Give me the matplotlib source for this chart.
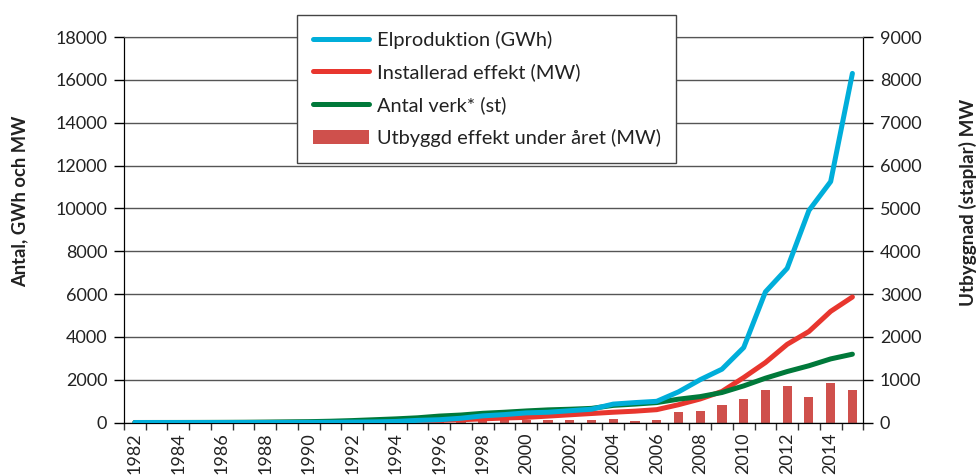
import matplotlib
matplotlib.use("Agg")
import matplotlib.pyplot as plt
import numpy as np

plt.rcParams["font.family"] = ["Lato", "DejaVu Sans"]

# data
years = list(range(1982, 2016))
elproduktion = [0, 0, 0, 0, 0, 0, 1, 3, 6, 10, 20, 30, 50, 100, 130, 200, 310,
                370, 450, 480, 550, 620, 860, 930, 990, 1430, 2000, 2490, 3500,
                6100, 7200, 9900, 11250, 16300]
installerad = [0, 0, 0, 0, 0, 1, 2, 4, 6, 10, 20, 30, 40, 60, 100, 130, 170,
               210, 240, 300, 360, 420, 480, 530, 600, 830, 1100, 1450, 2100,
               2800, 3650, 4250, 5190, 5860]
antal_verk = [1, 2, 3, 5, 8, 12, 20, 30, 40, 60, 90, 130, 170, 220, 300, 350,
              430, 480, 540, 590, 620, 660, 800, 860, 930, 1090, 1210, 1400,
              1710, 2070, 2380, 2650, 2970, 3190]
utbyggd = [0, 0, 0, 0, 0, 1, 1, 2, 3, 5, 10, 15, 20, 30, 40, 40, 50,
           55, 58, 50, 58, 58, 82, 46, 70, 246, 269, 403, 550,
           761, 847, 605, 917, 754]

left_ticks = list(range(0, 18001, 2000))
right_ticks = list(range(0, 9001, 1000))

c_blue = "#00AEDA"
c_red = "#E8362E"
c_green = "#00793A"
c_bar = "#CF504C"

x = np.arange(len(years))

fig = plt.figure(figsize=(9.78, 4.75), dpi=100)
ax = fig.add_axes([0.1268, 0.1105, 0.7559, 0.8116])
ax2 = ax.twinx()

# bars behind the lines
ax.set_zorder(ax2.get_zorder() + 1)
ax.patch.set_visible(False)

bars = ax2.bar(x, utbyggd, width=0.42, color=c_bar, zorder=2,
               label="Utbyggd effekt under året (MW)")

l1, = ax.plot(x, elproduktion, color=c_blue, lw=3.6, solid_capstyle="round",
              label="Elproduktion (GWh)", zorder=4)
l2, = ax.plot(x, installerad, color=c_red, lw=3.6, solid_capstyle="round",
              label="Installerad effekt (MW)", zorder=3)
l3, = ax.plot(x, antal_verk, color=c_green, lw=3.6, solid_capstyle="round",
              label="Antal verk* (st)", zorder=3)

ax.set_xlim(-0.5, len(years) - 0.5)
ax.set_ylim(0, 18000)
ax2.set_ylim(0, 9000)
ax.set_yticks(left_ticks)
ax2.set_yticks(right_ticks)

ax.grid(axis="y", color="#555555", lw=1.0, zorder=0)
ax.set_axisbelow(True)

# category ticks between years, labels every second year
ax.set_xticks(np.arange(-0.5, len(years), 1.0))
ax.set_xticklabels([])
ax.set_xticks(x[::2], minor=True)
ax.set_xticklabels([str(y) for y in years[::2]], minor=True, rotation=90,
                   fontsize=13, color="#222222")
ax.tick_params(axis="x", which="minor", length=0, pad=7)
ax.tick_params(axis="x", which="major", length=5, width=1, color="#333333")

ax.tick_params(axis="y", length=7, width=1, pad=5, labelsize=13,
               labelcolor="#222222")
ax2.tick_params(axis="y", length=7, width=1, pad=5, labelsize=13,
                labelcolor="#222222")

for a in (ax, ax2):
    a.spines["top"].set_color("#555555")
    a.spines["left"].set_color("black")
    a.spines["right"].set_color("black")
    a.spines["bottom"].set_color("black")

# axis titles placed by their centres
fig.text(20 / 978, 1 - 201 / 475, "Antal, GWh och MW", rotation=90,
         ha="center", va="center", fontsize=13.2, fontweight="bold",
         color="#222222")
fig.text(968 / 978, 1 - 202 / 475, "Utbyggnad (staplar) MW", rotation=90,
         ha="center", va="center", fontsize=13.6, fontweight="bold",
         color="#222222")

leg = ax.legend([l1, l2, l3, bars],
                [l1.get_label(), l2.get_label(), l3.get_label(), bars.get_label()],
                loc="upper left", bbox_to_anchor=(297 / 978, 1 - 15 / 475),
                bbox_transform=fig.transFigure, borderaxespad=0,
                fontsize=14.4, handlelength=2.8, handletextpad=0.4,
                labelspacing=0.74, borderpad=0.78, fancybox=False,
                edgecolor="#444444", framealpha=1)
leg.get_frame().set_linewidth(1.0)
for t in leg.get_texts():
    t.set_color("#222222")

fig.savefig("out.png", dpi=100)
